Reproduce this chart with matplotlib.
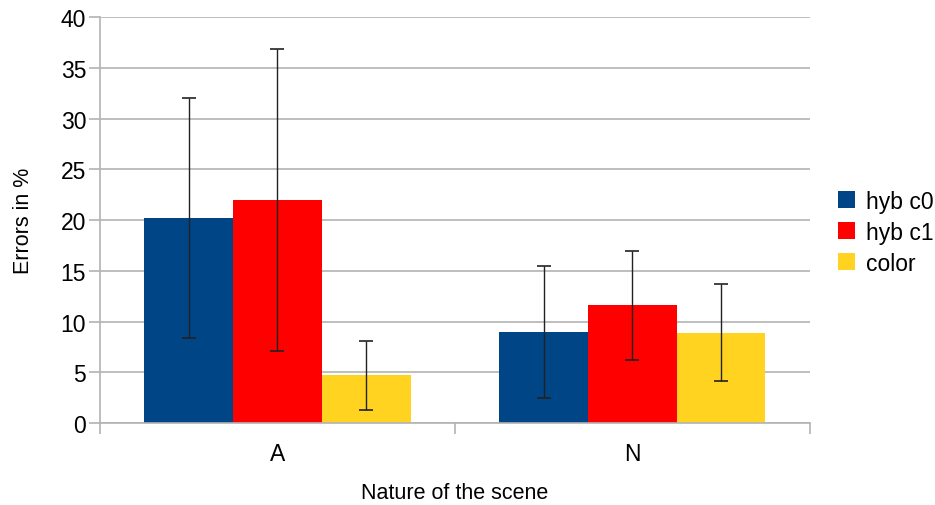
import numpy as np
import matplotlib.pyplot as plt

plt.rcParams['font.family'] = ['Liberation Sans', 'DejaVu Sans']

categories = ["A", "N"]
series = ["hyb c0", "hyb c1", "color"]
values = {
    "hyb c0": [20.2, 9.0],
    "hyb c1": [22.0, 11.6],
    "color": [4.7, 8.9],
}
errors = {
    "hyb c0": [11.8, 6.5],
    "hyb c1": [14.9, 5.4],
    "color": [3.4, 4.8],
}
colors = ["#004586", "#ff0000", "#ffd320"]

fig = plt.figure(figsize=(9.35, 5.06), dpi=100)
ax = fig.add_axes([0.107, 0.162, 0.759, 0.802])

x = np.arange(len(categories)) + 0.5
w = 0.25
for i, (s, c) in enumerate(zip(series, colors)):
    ax.bar(x + (i - 1) * w, values[s], w, color=c, label=s, zorder=2,
           yerr=errors[s], capsize=5,
           error_kw=dict(ecolor="#222222", elinewidth=1.0, capthick=1.2, zorder=3))

ax.set_xlim(0, len(categories))
ax.set_ylim(0, 40)
ax.set_yticks(np.arange(0, 41, 5))
ax.set_xticks(x)
ax.set_xticklabels(categories)
ax.set_xticks(np.arange(len(categories) + 1), minor=True)
ax.tick_params(axis="x", which="major", length=0, pad=14, labelsize=16.5)
ax.tick_params(axis="x", which="minor", length=8, color="#b3b3b3", width=1.2)
ax.tick_params(axis="y", length=8, color="#b3b3b3", width=1.2, labelsize=16.5, pad=2)
ax.yaxis.grid(True, color="#b3b3b3", linewidth=1.2, zorder=0)
ax.set_axisbelow(True)
for sp in ["top", "right"]:
    ax.spines[sp].set_visible(False)
for sp in ["left", "bottom"]:
    ax.spines[sp].set_color("#b3b3b3")
    ax.spines[sp].set_linewidth(1.2)

ax.set_xlabel("Nature of the scene", fontsize=15.5, labelpad=12)
ax.set_ylabel("Errors in %", fontsize=15.5, labelpad=19)

ax.legend(loc="center left", bbox_to_anchor=(1.02, 0.47), frameon=False,
          fontsize=16.5, handlelength=0.75, handleheight=0.75, handletextpad=0.5,
          labelspacing=0.35, borderaxespad=0.2)

fig.savefig("out.png", dpi=100)
